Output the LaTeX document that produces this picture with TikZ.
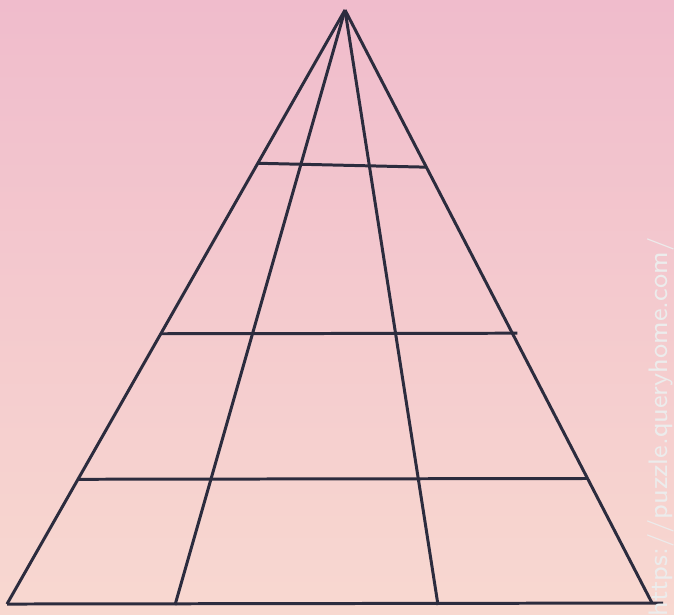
\documentclass[tikz,border=0pt]{standalone}
\usepackage{tikz}
\usetikzlibrary{positioning, calc}

\definecolor{bgtop}{RGB}{240,188,204}
\definecolor{bgbottom}{RGB}{248,216,208}
\definecolor{inkline}{RGB}{44,44,62}

\begin{document}
\begin{tikzpicture}[x=0.01cm, y=-0.01cm,
        edge/.style={line width=0.85pt, draw=inkline},
        watermark/.style={font=\fontsize{7.6}{8}\sffamily, text=white!85!gray, rotate=90, inner sep=0pt}]
                % background
                \shade[top color=bgtop, bottom color=bgbottom] (0,0) rectangle (674,614);
                \useasboundingbox (0,0) rectangle (674,614);

                % corners of the big triangle and the feet of the inner lines
                \coordinate (A) at (345,10);
                \coordinate (L) at (7,604);
                \coordinate (R) at (652,603);
                \coordinate (P) at (175,605);
                \coordinate (Q) at (438,605);
                \coordinate (E) at (663,603);

                % ends of the cross lines
                \coordinate (T1) at ($(A)!0.258!(L)$);
                \coordinate (T2) at ($(A)!0.265!(R)$);
                \coordinate (M1) at ($(A)!0.545!(L)$);
                \coordinate (M2) at ($(A)!0.545!(R)+(5,0)$);
                \coordinate (B1) at ($(A)!0.790!(L)$);
                \coordinate (B2) at ($(A)!0.790!(R)$);

                \draw[edge] (A) -- (L);
                \draw[edge] (A) -- (R);
                \draw[edge] (L) -- (E);

                \foreach \i/\j in {A/P, A/Q, T1/T2, M1/M2, B1/B2} {
                        \draw[edge] (\i) -- (\j);
                }

                \node[watermark] (W) at (661,427) {https://puzzle.queryhome.com/};
        \end{tikzpicture}
\end{document}
